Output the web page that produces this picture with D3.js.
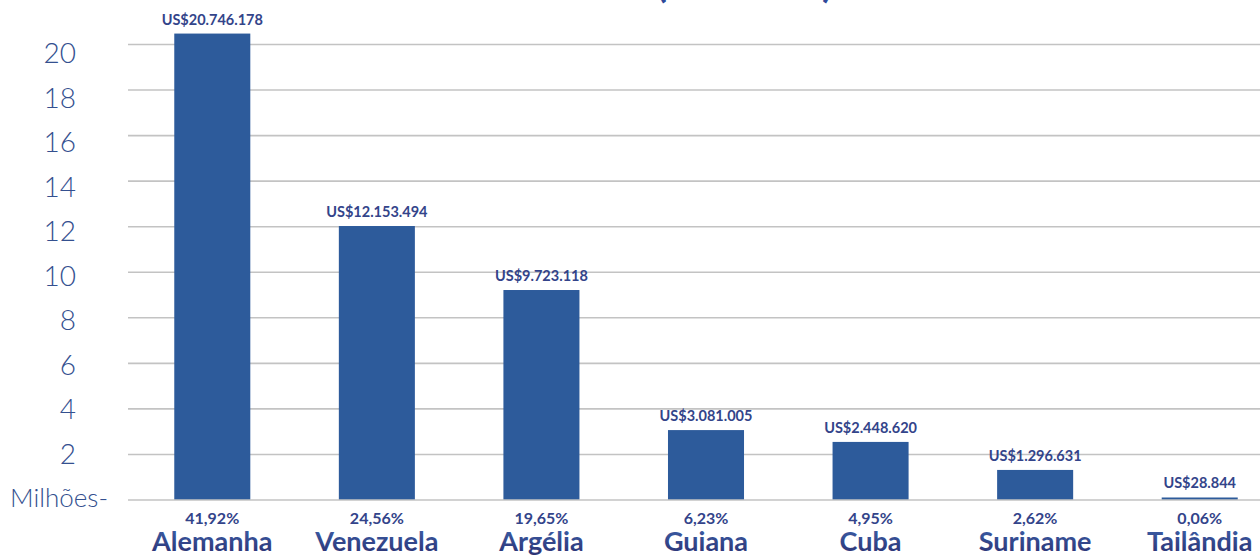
<!DOCTYPE html>
<html>
<head>
<meta charset="utf-8">
<script src="https://cdn.jsdelivr.net/npm/d3@7"></script>
<style>
  body { margin: 0; background: #fff; }
  svg { display: block; font-family: Lato, "Open Sans", sans-serif; }
</style>
</head>
<body>
<div id="chart"></div>
<script>
// categories and values (millions US$)
const countries = ["Alemanha", "Venezuela", "Argélia", "Guiana", "Cuba", "Suriname", "Tailândia"]
const barValues = [20.48, 12.03, 9.22, 3.07, 2.55, 1.32, 0.11]
const valueLabels = ["US$20.746.178", "US$12.153.494", "US$9.723.118", "US$3.081.005",
  "US$2.448.620", "US$1.296.631", "US$28.844"]
const shares = ["41,92%", "24,56%", "19,65%", "6,23%", "4,95%", "2,62%", "0,06%"]
const yTicks = [2, 4, 6, 8, 10, 12, 14, 16, 18, 20]

const width = 1260, height = 556

const svg = d3.select("#chart").append("svg")
  .attr("width", width)
  .attr("height", height)

// gradient used by the country names (light blue on top, navy at bottom)
const grad = svg.append("defs").append("linearGradient")
  .attr("id", "nameGrad")
  .attr("x1", 0).attr("y1", 0).attr("x2", 0).attr("y2", 1)
grad.append("stop").attr("offset", "0%").attr("stop-color", "#3d64ad")
grad.append("stop").attr("offset", "100%").attr("stop-color", "#2b2f70")

const x = d3.scaleBand()
  .domain(countries)
  .range([130, 1282])
  .paddingInner(0.538)
  .paddingOuter(0.269)

const y = d3.scaleLinear()
  .domain([0, 20])
  .range([500, 44.5])

// tick labels sit a bit off the gridlines in the original
const yLab = d3.scaleLinear()
  .domain([0, 20])
  .range([498, 53])

// cut-off title (only the bottom of the brackets shows)
svg.append("text")
  .attr("x", 656).attr("y", -3)
  .attr("font-size", 40).attr("font-weight", 700)
  .attr("fill", "#2e4a9a")
  .text("(")
svg.append("text")
  .attr("x", 822).attr("y", -3)
  .attr("font-size", 40).attr("font-weight", 700)
  .attr("fill", "#2e4a9a")
  .text(")")

// gridlines
svg.append("g")
  .selectAll("line")
  .data(yTicks)
  .enter().append("line")
  .attr("x1", 128).attr("x2", width)
  .attr("y1", d => y(d)).attr("y2", d => y(d))
  .attr("stroke", "#c3c3c3")
  .attr("stroke-width", 1.6)

// y labels
svg.append("g")
  .selectAll("text")
  .data(yTicks)
  .enter().append("text")
  .attr("x", 76)
  .attr("y", d => yLab(d))
  .attr("dy", "0.36em")
  .attr("text-anchor", "end")
  .attr("font-size", 28)
  .attr("font-weight", 300)
  .attr("fill", "#34508f")
  .text(d => d)

svg.append("text")
  .attr("x", 108)
  .attr("y", yLab(0))
  .attr("dy", "0.36em")
  .attr("text-anchor", "end")
  .attr("font-size", 26)
  .attr("font-weight", 300)
  .attr("fill", "#34508f")
  .text("Milhões-")

// bars
svg.append("g")
  .selectAll("rect")
  .data(countries)
  .enter().append("rect")
  .attr("x", d => x(d))
  .attr("width", x.bandwidth())
  .attr("y", (d, i) => y(barValues[i]))
  .attr("height", (d, i) => y(0) - y(barValues[i]))
  .attr("fill", "#2d5b9b")

// baseline
svg.append("line")
  .attr("x1", 128).attr("x2", width)
  .attr("y1", y(0)).attr("y2", y(0))
  .attr("stroke", "#c3c3c3")
  .attr("stroke-width", 1.6)

// value labels
svg.append("g")
  .selectAll("text")
  .data(countries)
  .enter().append("text")
  .attr("x", d => x(d) + x.bandwidth() / 2)
  .attr("y", (d, i) => y(barValues[i]) - 9)
  .attr("text-anchor", "middle")
  .attr("font-size", 14.5)
  .attr("font-weight", 700)
  .attr("fill", "#33448a")
  .text((d, i) => valueLabels[i])

// share labels
svg.append("g")
  .selectAll("text")
  .data(countries)
  .enter().append("text")
  .attr("x", d => x(d) + x.bandwidth() / 2)
  .attr("y", 524)
  .attr("text-anchor", "middle")
  .attr("font-size", 16)
  .attr("font-weight", 700)
  .attr("fill", "#33448a")
  .text((d, i) => shares[i])

// country names
svg.append("g")
  .selectAll("text")
  .data(countries)
  .enter().append("text")
  .attr("x", d => x(d) + x.bandwidth() / 2)
  .attr("y", 551)
  .attr("text-anchor", "middle")
  .attr("font-size", 27)
  .attr("font-weight", 700)
  .attr("fill", "url(#nameGrad)")
  .text(d => d)
</script>
</body>
</html>
